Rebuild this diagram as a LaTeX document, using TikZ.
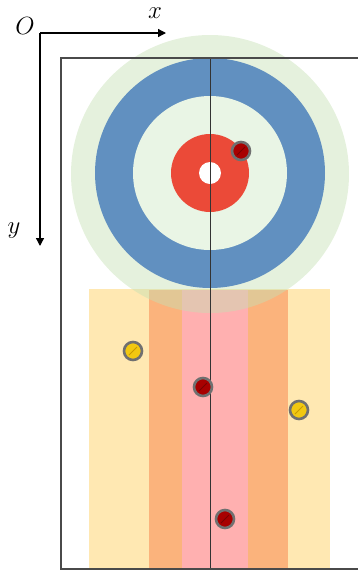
\documentclass[tikz,border=0pt]{standalone}
\usetikzlibrary{arrows.meta}
\definecolor{houseGreen}{HTML}{C5E0B4}
\definecolor{houseBlue}{HTML}{6190C0}
\definecolor{houseInner}{HTML}{E9F5E5}
\definecolor{houseRed}{HTML}{EB4A38}
\definecolor{zoneYellow}{HTML}{FFE8B2}
\definecolor{zoneOrange}{HTML}{FBB37C}
\definecolor{zonePink}{HTML}{FFB0B0}
\definecolor{stoneRed}{HTML}{A80000}
\definecolor{stoneRedDark}{HTML}{7A0000}
\definecolor{stoneYellow}{HTML}{F2C811}
\definecolor{stoneYellowDark}{HTML}{C99A00}
\definecolor{stoneRing}{HTML}{707070}
\definecolor{rinkLine}{HTML}{4A4A4A}
\tikzset{
  stonebase/.style={circle, draw=stoneRing, line width=2.6pt, minimum size=18pt, inner sep=0pt},
  redstone/.style={stonebase, fill=stoneRed},
  yellowstone/.style={stonebase, fill=stoneYellow},
  redstripe/.style={stoneRedDark, line width=1pt},
  yellowstripe/.style={stoneYellowDark, line width=1pt},
  axisline/.style={black, line width=1.3pt, -{Triangle[length=8pt,width=8pt]}},
  axislabel/.style={inner sep=0pt, font=\fontsize{28}{28}\selectfont},
  rinkedge/.style={rinkLine, line width=1.5pt},
}
\begin{document}
\begin{tikzpicture}[x=1pt,y=-1pt]
\useasboundingbox (0,0) rectangle (357,574);
% zones
\fill[zoneYellow] (89,289) rectangle (330,568);
\fill[zoneOrange] (149,290) rectangle (288,568);
\fill[zonePink] (182,290) rectangle (248,568);
% house
\fill[houseGreen, fill opacity=0.45] (210,174) circle[radius=139];
\fill[houseBlue] (210,173) circle[radius=115];
\fill[houseInner] (210,173) circle[radius=77];
\fill[houseRed] (210,173) circle[radius=39];
\fill[white] (210,173) circle[radius=11];
% center line and rink
\coordinate (ctop) at (210,58);
\coordinate (cbot) at (210,569);
\draw[black!80, line width=1pt] (ctop) -- (cbot);
\coordinate (rtr) at (358,58);
\coordinate (rtl) at (61,58);
\coordinate (rbl) at (61,569);
\coordinate (rbr) at (358,569);
\draw[rinkedge] (rtr) -- (rtl) -- (rbl) -- (rbr);
% axes
\coordinate (orig) at (40,33);
\coordinate (xend) at (166,33);
\coordinate (yend) at (40,246);
\draw[axisline] (orig) -- (xend);
\draw[axisline] (orig) -- (yend);
\node[axislabel, font=\fontsize{23}{23}\selectfont] (lO) at (25,25.5) {$O$};
\node[axislabel] (lx) at (155,13) {$x$};
\node[axislabel] (ly) at (14,231) {$y$};
% stones
\node[redstone] (s0) at (241,151) {};
\draw[redstripe] ([shift={(-4,4)}]s0.center) -- ([shift={(4,-4)}]s0.center);
\node[yellowstone] (s1) at (133,351) {};
\draw[yellowstripe] ([shift={(-4,4)}]s1.center) -- ([shift={(4,-4)}]s1.center);
\node[redstone] (s2) at (203,387) {};
\draw[redstripe] ([shift={(-4,4)}]s2.center) -- ([shift={(4,-4)}]s2.center);
\node[yellowstone] (s3) at (299,410) {};
\draw[yellowstripe] ([shift={(-4,4)}]s3.center) -- ([shift={(4,-4)}]s3.center);
\node[redstone] (s4) at (225,519) {};
\draw[redstripe] ([shift={(-4,4)}]s4.center) -- ([shift={(4,-4)}]s4.center);
\end{tikzpicture}
\end{document}
